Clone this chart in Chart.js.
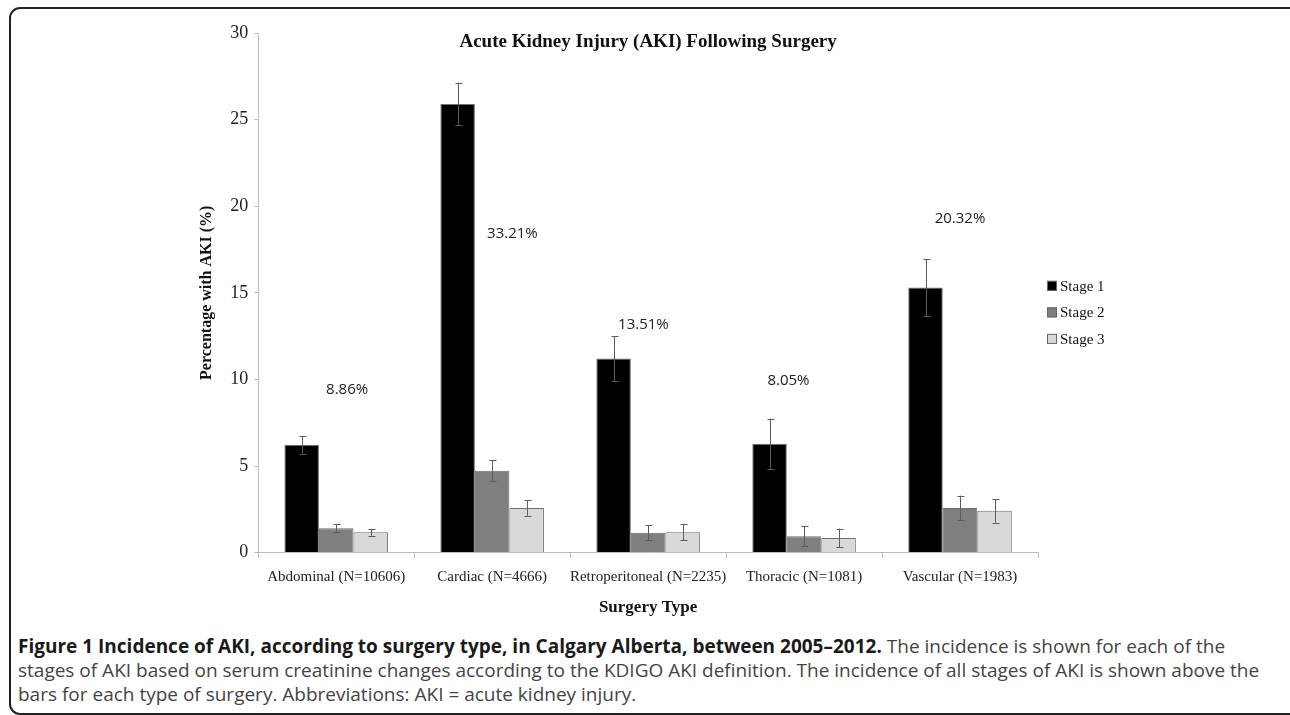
<!DOCTYPE html>
<html>
<head>
<meta charset="utf-8">
<script src="https://cdn.jsdelivr.net/npm/chart.js@4.4.1/dist/chart.umd.min.js"></script>
<style>
  html, body { margin: 0; padding: 0; background: #fff; }
  body { width: 1290px; height: 715px; position: relative; overflow: hidden; }
  #frame {
    position: absolute; left: 9px; top: 7px; width: 1295px; height: 708px;
    border: 2px solid #222; border-radius: 11px; box-sizing: border-box;
  }
  #chart { position: absolute; left: 0; top: 0; }
  #caption {
    position: absolute; left: 18px; top: 634px; white-space: nowrap;
    font-family: "Open Sans", sans-serif; font-size: 19px; line-height: 24px;
    color: #444;
  }
  #caption b { color: #1a1a1a; }
</style>
</head>
<body>
<div id="frame"></div>
<canvas id="chart" width="1290" height="624"></canvas>
<div id="caption"><b>Figure 1 Incidence of AKI, according to surgery type, in Calgary Alberta, between 2005–2012.</b> The incidence is shown for each of the<br>stages of AKI based on serum creatinine changes according to the KDIGO AKI definition. The incidence of all stages of AKI is shown above the<br>bars for each type of surgery. Abbreviations: AKI = acute kidney injury.</div>
<script>
const categories = ["Abdominal (N=10606)", "Cardiac (N=4666)", "Retroperitoneal (N=2235)", "Thoracic (N=1081)", "Vascular (N=1983)"]
const stage1 = [6.22, 25.9, 11.2, 6.28, 15.3]
const stage2 = [1.41, 4.72, 1.14, 0.95, 2.58]
const stage3 = [1.18, 2.58, 1.18, 0.85, 2.41]
const stage1Err = [0.5, 1.23, 1.3, 1.45, 1.65]
const stage2Err = [0.24, 0.6, 0.44, 0.58, 0.71]
const stage3Err = [0.2, 0.45, 0.45, 0.54, 0.68]
const totals = ["8.86%", "33.21%", "13.51%", "8.05%", "20.32%"]
const yTicks = [0, 5, 10, 15, 20, 25, 30]

// where the total labels sit: value on y axis, shift in category widths
const totalSpots = [[9.4, 0.07], [18.4, 0.13], [13.15, -0.03], [9.9, -0.1], [19.3, 0]]

const serif = "'Liberation Serif', 'Times New Roman', serif"
const errors = [stage1Err, stage2Err, stage3Err]

const extras = {
  id: "extras",
  afterDatasetsDraw(chart) {
    const { ctx, chartArea, scales: { x, y } } = chart
    ctx.save()
    // error bars
    ctx.strokeStyle = "#5c5c5c"
    ctx.lineWidth = 1
    chart.data.datasets.forEach((ds, i) => {
      chart.getDatasetMeta(i).data.forEach((bar, j) => {
        const v = ds.data[j], e = errors[i][j]
        const bx = Math.round(bar.x) + 0.5
        const top = y.getPixelForValue(v + e), bot = y.getPixelForValue(v - e)
        ctx.beginPath()
        ctx.moveTo(bx, top); ctx.lineTo(bx, bot)
        ctx.moveTo(bx - 3, Math.round(top) + 0.5); ctx.lineTo(bx + 4, Math.round(top) + 0.5)
        ctx.moveTo(bx - 3, Math.round(bot) + 0.5); ctx.lineTo(bx + 4, Math.round(bot) + 0.5)
        ctx.stroke()
      })
    })
    // totals
    ctx.fillStyle = "#222"
    ctx.font = "15px 'Open Sans', sans-serif"
    ctx.textAlign = "center"
    ctx.textBaseline = "middle"
    const catW = x.getPixelForValue(1) - x.getPixelForValue(0)
    totals.forEach((t, j) => {
      const [v, dx] = totalSpots[j]
      ctx.fillText(t, x.getPixelForValue(j) + dx * catW, y.getPixelForValue(v))
    })
    // title
    ctx.font = "bold 19px " + serif
    ctx.fillStyle = "#111"
    ctx.fillText("Acute Kidney Injury (AKI) Following Surgery", (chartArea.left + chartArea.right) / 2, chartArea.top + 9)
    // legend
    ctx.textAlign = "left"
    ctx.font = "15px " + serif
    chart.data.datasets.forEach((ds, i) => {
      const ly = y.getPixelForValue(15.4) + i * 26.5
      const lx = chartArea.right + 9
      ctx.fillStyle = ds.backgroundColor
      ctx.fillRect(lx, ly - 5, 10, 10)
      ctx.strokeStyle = "#666"
      ctx.strokeRect(lx + 0.5, ly - 4.5, 9, 9)
      ctx.fillStyle = "#111"
      ctx.fillText(ds.label, lx + 13, ly + 1)
    })
    ctx.restore()
  }
}

new Chart(document.getElementById("chart"), {
  type: "bar",
  data: {
    labels: categories,
    datasets: [
      { label: "Stage 1", data: stage1, backgroundColor: "#000000" },
      { label: "Stage 2", data: stage2, backgroundColor: "#7f7f7f" },
      { label: "Stage 3", data: stage3, backgroundColor: "#d9d9d9" }
    ]
  },
  options: {
    responsive: false,
    animation: false,
    layout: { padding: { left: 190, right: 252, top: 33, bottom: 6 } },
    datasets: {
      bar: {
        categoryPercentage: 0.664,
        barPercentage: 1,
        borderColor: "#6f6f6f",
        borderWidth: 1
      }
    },
    plugins: {
      legend: { display: false },
      tooltip: { enabled: false }
    },
    scales: {
      x: {
        grid: { offset: true, drawOnChartArea: false, color: "#bdbdbd", tickLength: 5 },
        border: { color: "#bdbdbd" },
        ticks: {
          color: "#222", padding: 10, maxRotation: 0, minRotation: 0, autoSkip: false,
          font: { family: serif, size: 15 }
        },
        title: {
          display: true, text: "Surgery Type", color: "#111",
          padding: { top: 2, bottom: 0 },
          font: { family: serif, size: 17, weight: "bold" }
        }
      },
      y: {
        min: 0,
        max: 30,
        afterBuildTicks: axis => { axis.ticks = yTicks.map(v => ({ value: v })) },
        grid: { drawOnChartArea: false, color: "#bdbdbd", tickLength: 4 },
        border: { color: "#bdbdbd" },
        ticks: { color: "#222", padding: 6, font: { family: serif, size: 18 } },
        title: {
          display: true, text: "Percentage with AKI (%)", color: "#111",
          padding: { top: 7, bottom: 8 },
          font: { family: serif, size: 16, weight: "bold" }
        }
      }
    }
  },
  plugins: [extras]
})
</script>
</body>
</html>
